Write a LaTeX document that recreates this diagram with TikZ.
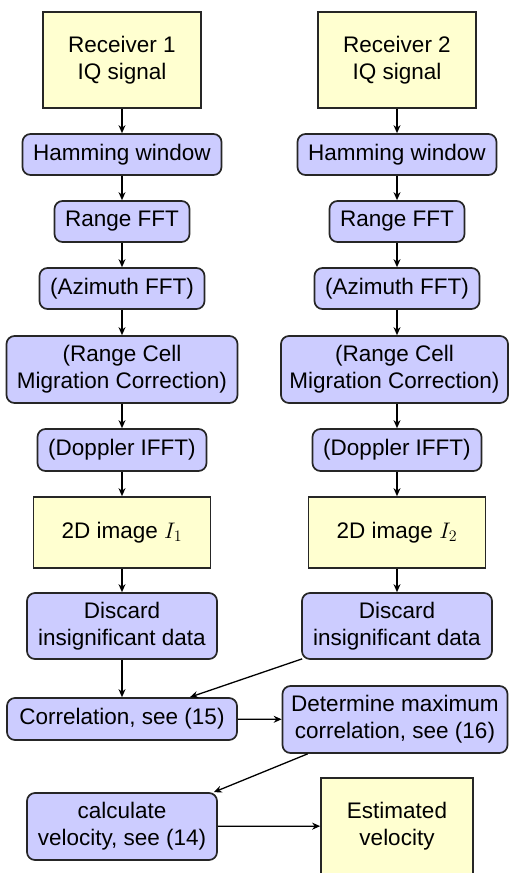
\documentclass[tikz,border=0pt]{standalone}
\usepackage{fix-cm}
\DeclareMathSizes{22.5}{22.5}{16}{12}
\usepackage{fontspec}
\setmainfont{Liberation Sans}
\usetikzlibrary{arrows.meta,calc}
\definecolor{boxblue}{RGB}{204,204,255}
\definecolor{boxyellow}{RGB}{255,255,208}
\begin{document}
\begin{tikzpicture}[x=1pt,y=-1pt,
 base/.style={draw=black!85, line width=1.7pt, align=center, inner sep=0pt, font=\fontsize{22.5}{27}\selectfont},
 proc/.style={base, fill=boxblue, rounded corners=8pt},
 data/.style={base, fill=boxyellow},
 arr/.style={-{Stealth[length=8pt,width=7pt]}, line width=1.3pt}]
\clip (0,0) rectangle (509,873);
% left column
\node[data, minimum width=158pt, minimum height=96pt] (r1) at (122,60) {Receiver 1\\IQ signal};
\node[proc, minimum width=199pt, minimum height=41pt] (h1) at (122,154.5) {Hamming window};
\node[proc, minimum width=135pt, minimum height=41pt] (f1) at (122,221.5) {Range FFT};
\node[proc, minimum width=165pt, minimum height=41pt] (a1) at (122,288.5) {(Azimuth FFT)};
\node[proc, minimum width=231pt, minimum height=67pt] (m1) at (122,369.5) {(Range Cell\\Migration Correction)};
\node[proc, minimum width=169pt, minimum height=42pt] (d1) at (122,450) {(Doppler IFFT)};
\node[data, minimum width=177pt, minimum height=71pt] (i1) at (122,532.5) {2D image $I_1$};
\node[proc, minimum width=190pt, minimum height=66pt] (x1) at (122,626) {Discard\\insignificant data};
% right column
\node[data, minimum width=158pt, minimum height=96pt] (r2) at (397,60) {Receiver 2\\IQ signal};
\node[proc, minimum width=199pt, minimum height=41pt] (h2) at (397,154.5) {Hamming window};
\node[proc, minimum width=135pt, minimum height=41pt] (f2) at (397,221.5) {Range FFT};
\node[proc, minimum width=165pt, minimum height=41pt] (a2) at (397,288.5) {(Azimuth FFT)};
\node[proc, minimum width=227pt, minimum height=67pt] (m2) at (394.5,369.5) {(Range Cell\\Migration Correction)};
\node[proc, minimum width=169pt, minimum height=42pt] (d2) at (397,450) {(Doppler IFFT)};
\node[data, minimum width=177pt, minimum height=71pt] (i2) at (397,532.5) {2D image $I_2$};
\node[proc, minimum width=190pt, minimum height=66pt] (x2) at (397,626) {Discard\\insignificant data};
% bottom
\node[proc, minimum width=230pt, minimum height=42pt] (c) at (122,719) {Correlation, see (15)};
\node[proc, minimum width=225pt, minimum height=67pt] (dm) at (395,719.5) {Determine maximum\\correlation, see (16)};
\node[proc, minimum width=190pt, minimum height=67pt] (cv) at (122,826.5) {calculate\\velocity, see (14)};
\node[data, minimum width=152pt, minimum height=96pt] (ev) at (397,826) {};
\node[font=\fontsize{22.5}{27}\selectfont, align=center] (evt) at (397,826.5) {Estimated\\velocity};
% arrows
\foreach \a/\b in {r1/h1,h1/f1,f1/a1,a1/m1,m1/d1,d1/i1,i1/x1,x1/c}
  \draw[arr] (r1 |- \a.south) -- (r1 |- \b.north);
\foreach \a/\b in {r2/h2,h2/f2,f2/a2,a2/m2,m2/d2,d2/i2,i2/x2}
  \draw[arr] (r2 |- \a.south) -- (r2 |- \b.north);
\draw[arr] ($(x2.south west)+(1,-1)$) -- ($(c.north)+(68,0)$);
\draw[arr] (c) -- (dm);
\draw[arr] ($(dm.south west)+(26,0)$) -- ($(cv.north east)+(-4,0)$);
\draw[arr] (cv) -- (ev);
\end{tikzpicture}
\end{document}
